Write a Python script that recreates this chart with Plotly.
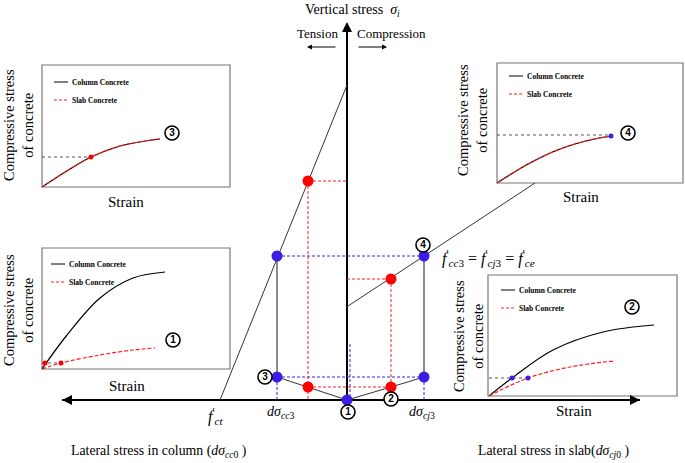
import plotly.graph_objects as go

# ---- data (pixel space, y grows downward) ----
# main axes
h_axis_x = [62, 640]
h_axis_y = 400
v_axis_x = 347
v_axis_top = 22

# sloped envelope lines
left_line_x = [220, 347]
left_line_y = [400, 85]
right_line_x = [347, 535]
right_line_y = [306.7, 183]

# state points on the main diagram
blue_x = [277, 277, 424, 424, 347]
blue_y = [377, 256, 256, 377, 400]
red_x = [308, 308, 391, 391]
red_y = [181, 387, 387, 279]

# lower polyline 3 -> red -> 1 -> red -> blue
poly_x = [277, 308, 347, 391, 424]
poly_y = [377, 387, 400, 387, 377]

# circled state labels (main diagram, then insets)
tag_text = ["1", "2", "3", "4", "3", "4", "1", "2"]
tag_x = [348, 391, 265, 423, 172, 628, 173, 632]
tag_y = [412, 399, 377, 245, 133, 133, 340, 307]

# inset boxes [x0, y0, x1, y1]
boxes = [[42, 65, 230, 187], [497, 63, 683, 183], [42, 248, 230, 369], [488, 275, 677, 396]]

# inset curves
c3_x = [42, 70, 91, 120, 145, 160]
c3_y = [187, 169, 157, 146, 141, 139]
c4_x = [497, 530, 560, 590, 612]
c4_y = [183, 163, 149, 140, 136]
c1_col_x = [42, 67, 100, 133, 165]
c1_col_y = [369, 335, 298, 278, 272]
c1_slab_x = [42, 61, 100, 133, 155]
c1_slab_y = [369, 363, 355, 350, 348]
c2_col_x = [489, 512, 553, 603, 654]
c2_col_y = [396, 378, 350, 332, 325]
c2_slab_x = [489, 528, 570, 614]
c2_slab_y = [396, 378, 367, 361]

fig = go.Figure()


def line(x, y, color="#333333", width=1, dash="solid", shape="linear"):
    fig.add_trace(go.Scatter(x=x, y=y, mode="lines", line=dict(color=color, width=width, dash=dash, shape=shape),
                             hoverinfo="skip", showlegend=False))


def text(x, y, s, size=13, angle=0, bold=False, anchor="center", family="Liberation Serif"):
    if bold:
        s = "<b>" + s + "</b>"
    fig.add_annotation(x=x, y=y, text=s, showarrow=False, textangle=angle, xanchor=anchor,
                       font=dict(family=family, size=size, color="black"))


def arrow(x0, y0, x1, y1, width=1):
    fig.add_annotation(x=x1, y=y1, ax=x0, ay=y0, xref="x", yref="y", axref="x", ayref="y", text="",
                       showarrow=True, arrowhead=2, arrowsize=1, arrowwidth=width, arrowcolor="black")


# insets (boxes under everything)
for b in boxes:
    fig.add_shape(type="rect", x0=b[0], y0=b[1], x1=b[2], y1=b[3], line=dict(color="#777777", width=1.2),
                  fillcolor="white", layer="below")

# main axes: lines as traces, heads as short arrows
line(h_axis_x, [h_axis_y, h_axis_y], "black", 2)
line([v_axis_x, v_axis_x], [h_axis_y, v_axis_top + 4], "black", 2)
arrow(h_axis_x[1] - 8, h_axis_y, h_axis_x[1], h_axis_y, 2)
arrow(h_axis_x[0] + 8, h_axis_y, h_axis_x[0], h_axis_y, 2)
arrow(v_axis_x, v_axis_top + 8, v_axis_x, v_axis_top, 2)
arrow(337, 47, 307, 47)
arrow(357, 47, 387, 47)

# guide lines (dashed)
blue = "#3a1ee6"
red = "#ff2020"
dsh = "3px,2px"
line([277, 424], [256, 256], blue, 1, dsh)
line([277, 424], [377, 377], blue, 1, dsh)
line([277, 277], [377, 400], blue, 1, dsh)
line([424, 424], [377, 400], blue, 1, dsh)
line([350, 350], [344, 400], blue, 1, dsh)
line([308, 308], [181, 400], red, 1, dsh)
line([308, 347], [181, 181], red, 1, dsh)
line([391, 391], [279, 400], red, 1, dsh)
line([347, 391], [279, 279], red, 1, dsh)
line([308, 391], [387, 387], red, 1, dsh)

# solid lines
line([277, 277], [256, 377], "#4b4b6b", 1.3)
line([424, 424], [256, 377], "#4b4b6b", 1.3)
line(left_line_x, left_line_y)
line(right_line_x, right_line_y)
line(poly_x, poly_y)

fig.add_trace(go.Scatter(x=blue_x, y=blue_y, mode="markers", marker=dict(color=blue, size=11),
                         hoverinfo="skip", showlegend=False))
fig.add_trace(go.Scatter(x=red_x, y=red_y, mode="markers", marker=dict(color="#ff0000", size=11),
                         hoverinfo="skip", showlegend=False))

cdsh = "4px,2px"
line(c3_x, c3_y, "black", 1.2, shape="spline")
line(c3_x, c3_y, red, 1.2, cdsh, "spline")
line(c4_x, c4_y, "black", 1.2, shape="spline")
line(c4_x, c4_y, red, 1.2, cdsh, "spline")
line(c1_col_x, c1_col_y, "black", 1.2, shape="spline")
line(c1_slab_x, c1_slab_y, red, 1.2, cdsh, "spline")
line(c2_col_x, c2_col_y, "black", 1.2, shape="spline")
line(c2_slab_x, c2_slab_y, red, 1.2, cdsh, "spline")

# dotted reading lines + small points in insets
line([42, 91], [157, 157], "#555555", 1, "dot")
line([497, 612], [135, 135], "#555555", 1, "dot")
line([42, 61], [363, 363], "#555555", 1, "dot")
line([489, 528], [378, 378], "#555555", 1, "dot")
fig.add_trace(go.Scatter(x=[91, 45, 61], y=[157, 363, 363], mode="markers",
                         marker=dict(color="#ff0000", size=5), hoverinfo="skip", showlegend=False))
fig.add_trace(go.Scatter(x=[611, 512, 528], y=[136, 378, 378], mode="markers",
                         marker=dict(color=blue, size=5), hoverinfo="skip", showlegend=False))

# inset legends
for lx, ly in [(54, 82), (509, 76), (51, 264), (501, 290)]:
    line([lx, lx + 14], [ly, ly], "black", 1)
    text(lx + 16, ly, "Column Concrete", 7.5, bold=True, anchor="left")
    line([lx, lx + 14], [ly + 18, ly + 18], red, 1, "3px,2px")
    text(lx + 16, ly + 18, "Slab Concrete", 7.5, bold=True, anchor="left")

# inset axis titles
for tx, ty, sx, sy in [(18, 125, 126, 202), (472, 120, 581, 197), (18, 310, 127, 386), (468, 336, 574, 411)]:
    text(tx, ty, "Compressive stress<br>of concrete", 14.5, angle=-90)
    text(sx, sy, "Strain", 15)

# circled tags
fig.add_trace(go.Scatter(x=tag_x, y=tag_y, text=["<b>" + t + "</b>" for t in tag_text], mode="markers+text",
                         textposition="middle center", textfont=dict(family="Liberation Sans", size=10, color="black"),
                         marker=dict(color="white", size=14, line=dict(color="black", width=1.6)),
                         hoverinfo="skip", showlegend=False))

# main texts
text(352, 10, "Vertical stress  <i>σ<sub>i</sub></i>", 14)
text(317, 33, "Tension", 13)
text(391, 33, "Compression", 13)
text(215, 416, "<i>f</i><sup>'</sup><sub><i>ct</i></sub>", 16)
text(281, 412, "<i>dσ</i><sub><i>cc</i>3</sub>", 14)
text(422, 412, "<i>dσ</i><sub><i>cj</i>3</sub>", 14)
text(440, 258, "<i>f</i><sup>'</sup><sub><i>cc</i>3</sub> = <i>f</i><sup>'</sup><sub><i>cj</i>3</sub> = <i>f</i><sup>'</sup><sub><i>ce</i></sub>",
     16, anchor="left")
text(158, 451, "Lateral stress in column (<i>dσ</i><sub><i>cc</i>0</sub> )", 13.8)
text(553, 451, "Lateral stress in slab(<i>dσ</i><sub><i>cj</i>0</sub> )", 13.8)

fig.update_xaxes(range=[0, 685], visible=False, fixedrange=True)
fig.update_yaxes(range=[463, 0], visible=False, fixedrange=True)
fig.update_layout(width=685, height=463, autosize=False,
                  margin=dict(l=0, r=0, t=0, b=0, pad=0, autoexpand=False),
                  plot_bgcolor="white", paper_bgcolor="white")
# page body has an 8px default margin, drop it so pixels line up
fig.write_html("out.html", config={"displayModeBar": False}, post_script="document.body.style.margin='0px';")
